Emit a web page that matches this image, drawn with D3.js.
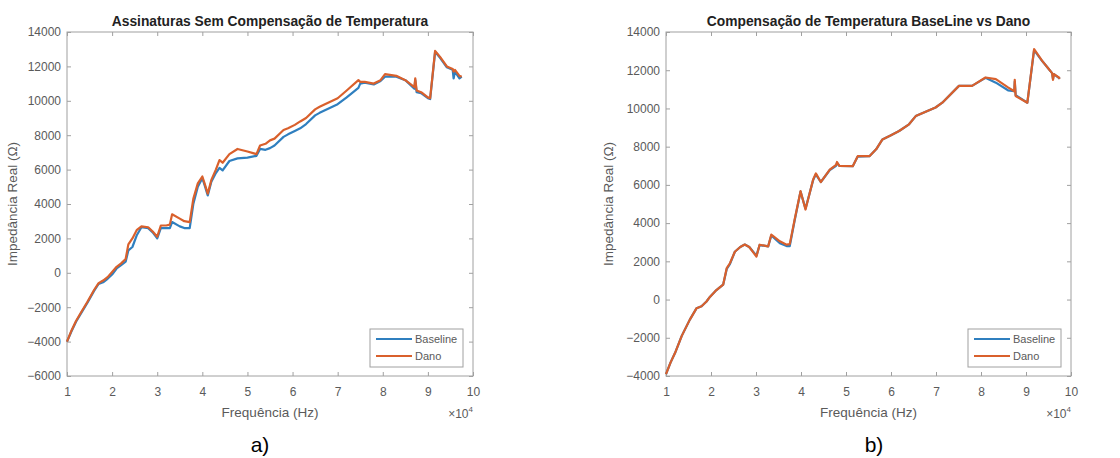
<!DOCTYPE html>
<html><head><meta charset="utf-8">
<script src="https://cdn.jsdelivr.net/npm/d3@7"></script>
<style>
body{margin:0;background:#fff;}
svg{display:block;font-family:"Liberation Sans",Arial,sans-serif;}
</style></head>
<body>
<svg id="chart" width="1120" height="458"></svg>
<script>
// ---- Data (frequency in units of 1e4 Hz) ----
const freqA = [1.0,1.1,1.2,1.3,1.45,1.6,1.7,1.8,1.9,2.0,2.1,2.2,2.3,2.36,2.45,2.55,2.65,2.8,2.9,3.0,3.08,3.2,3.28,3.33,3.5,3.6,3.72,3.8,3.9,4.0,4.05,4.12,4.2,4.3,4.38,4.45,4.6,4.78,5.0,5.2,5.28,5.4,5.5,5.6,5.8,5.9,6.05,6.17,6.3,6.5,6.6,6.8,7.0,7.2,7.46,7.5,7.6,7.8,7.95,8.05,8.3,8.5,8.7,8.72,8.75,8.85,9.0,9.05,9.16,9.27,9.42,9.55,9.57,9.6,9.7,9.75];
const baseA = [-4000,-3400,-2850,-2400,-1750,-1050,-650,-550,-350,-100,250,450,650,1300,1500,2200,2650,2600,2350,2000,2600,2600,2600,2950,2700,2600,2600,4000,5000,5500,5100,4500,5300,5800,6100,5950,6500,6650,6700,6800,7200,7150,7250,7400,7900,8050,8250,8400,8650,9150,9300,9550,9800,10200,10750,11000,11050,10950,11150,11400,11400,11200,10700,11200,10500,10450,10150,10100,12850,12500,11950,11800,11300,11700,11300,11400];
const danoA = [-4000,-3350,-2800,-2350,-1700,-1000,-600,-450,-250,50,350,550,800,1650,2000,2500,2700,2650,2400,2100,2750,2750,2800,3400,3150,3000,2950,4300,5200,5600,5200,4600,5400,6000,6550,6400,6900,7200,7050,6900,7400,7500,7700,7800,8300,8400,8600,8800,9000,9500,9650,9900,10150,10600,11200,11100,11100,11000,11200,11550,11450,11200,10800,11300,10600,10500,10200,10150,12900,12550,12000,11850,11700,11800,11450,11400];

const freqB = [1.0,1.1,1.2,1.35,1.53,1.68,1.79,1.9,1.98,2.1,2.27,2.35,2.42,2.53,2.65,2.75,2.85,3.01,3.08,3.27,3.34,3.53,3.68,3.75,3.86,3.99,4.1,4.27,4.33,4.44,4.64,4.78,4.8,4.85,5.15,5.26,5.52,5.67,5.81,6.0,6.18,6.4,6.55,6.99,7.14,7.51,7.8,8.1,8.33,8.6,8.74,8.75,8.77,9.03,9.18,9.36,9.51,9.58,9.6,9.62,9.73,9.75];
const baseB = [-3900,-3300,-2800,-1900,-1050,-450,-350,-100,150,450,780,1600,1850,2500,2750,2880,2750,2300,2850,2780,3350,2950,2800,2800,4150,5650,4750,6250,6550,6150,6780,7000,7150,7000,6980,7480,7500,7860,8380,8600,8820,9170,9600,10050,10300,11180,11180,11600,11350,10950,10900,11400,10700,10300,13050,12480,12050,11850,11550,11800,11600,11550];
const danoB = [-3900,-3300,-2800,-1900,-1050,-450,-350,-100,150,450,780,1650,1900,2500,2750,2880,2750,2250,2870,2780,3400,3050,2870,2900,4200,5670,4710,6280,6600,6150,6800,7050,7200,7000,6980,7500,7500,7860,8380,8600,8820,9170,9600,10050,10300,11180,11180,11620,11530,11100,10900,11500,10650,10300,13100,12490,12050,11850,11500,11800,11620,11550];

const xTicks = [1,2,3,4,5,6,7,8,9,10];
const yTicksA = [-6000,-4000,-2000,0,2000,4000,6000,8000,10000,12000,14000];
const yTicksB = [-4000,-2000,0,2000,4000,6000,8000,10000,12000,14000];
const seriesNames = ["Baseline","Dano"];
const colors = ["#2f7fbf","#d9602c"];

const svg = d3.select("#chart");

function panel(opt){
  const g = svg.append("g");
  const x = d3.scaleLinear().domain([1,10]).range([opt.left,opt.right]);
  const y = d3.scaleLinear().domain(opt.ydom).range([opt.bottom,opt.top]);
  const axisColor = "#a0a0a0", txt = "#5a5a5a";
  g.append("rect").attr("x",opt.left).attr("y",opt.top)
    .attr("width",opt.right-opt.left).attr("height",opt.bottom-opt.top)
    .attr("fill","#fff").attr("stroke",axisColor).attr("stroke-width",1);
  const ax = (gen, tr) => {
    const a = g.append("g").attr("transform",tr).call(gen);
    a.select(".domain").remove();
    a.selectAll("line").attr("stroke",axisColor);
    a.selectAll("text").attr("fill",txt).style("font-size","12px").style("font-family","'Liberation Sans',Arial,sans-serif");
    return a;
  };
  ax(d3.axisBottom(x).tickValues(xTicks).tickSize(-4).tickPadding(11).tickFormat(d3.format("d")), `translate(0,${opt.bottom})`);
  ax(d3.axisTop(x).tickValues(xTicks).tickSize(-4).tickFormat(""), `translate(0,${opt.top})`);
  ax(d3.axisLeft(y).tickValues(opt.yticks).tickSize(-4).tickPadding(6).tickFormat(d3.format("d")), `translate(${opt.left},0)`);
  ax(d3.axisRight(y).tickValues(opt.yticks).tickSize(-4).tickFormat(""), `translate(${opt.right},0)`);

  const line = d3.line().x((d,i)=>x(opt.freq[i])).y(d=>y(d));
  [opt.base, opt.dano].forEach((s,k)=>{
    g.append("path").datum(s).attr("d",line).attr("fill","none")
      .attr("stroke",colors[k]).attr("stroke-width",2.2).attr("stroke-linejoin","round");
  });

  const cx = (opt.left+opt.right)/2;
  g.append("text").attr("x",cx).attr("y",opt.top-6).attr("text-anchor","middle")
    .style("font-size","13.8px").style("font-weight","bold").attr("fill","#222").text(opt.title);
  g.append("text").attr("x",cx).attr("y",opt.bottom+41).attr("text-anchor","middle")
    .style("font-size","13.5px").attr("fill",txt).text("Frequência (Hz)");
  g.append("text").attr("transform",`translate(${opt.ylabX},${(opt.top+opt.bottom)/2}) rotate(-90)`)
    .attr("text-anchor","middle").style("font-size","13.5px").attr("fill",txt).text("Impedância Real (Ω)");
  const ex = g.append("text").attr("x",opt.right).attr("y",opt.bottom+42).attr("text-anchor","end")
    .style("font-size","12px").attr("fill",txt);
  ex.append("tspan").text("×10");
  ex.append("tspan").attr("dy",-6).style("font-size","8px").text("4");
  g.append("text").attr("x",opt.labX).attr("y",452).attr("text-anchor","middle")
    .style("font-size","21px").attr("fill","#000").text(opt.label);

  // legend
  const lx = opt.right-103, ly = opt.bottom-47;
  g.append("rect").attr("x",lx).attr("y",ly).attr("width",93).attr("height",38)
    .attr("fill","#fff").attr("stroke",axisColor);
  seriesNames.forEach((n,k)=>{
    const yy = ly+10+k*17;
    g.append("line").attr("x1",lx+6).attr("x2",lx+42).attr("y1",yy).attr("y2",yy)
      .attr("stroke",colors[k]).attr("stroke-width",2.2);
    g.append("text").attr("x",lx+45).attr("y",yy+4).style("font-size","11px").attr("fill",txt).text(n);
  });
}

panel({left:67,right:473,top:32,bottom:376,ydom:[-6000,14000],yticks:yTicksA,
  freq:freqA,base:baseA,dano:danoA,title:"Assinaturas Sem Compensação de Temperatura",
  ylabX:17,labX:260,label:"a)"});
panel({left:666,right:1071,top:32,bottom:376,ydom:[-4000,14000],yticks:yTicksB,
  freq:freqB,base:baseB,dano:danoB,title:"Compensação de Temperatura BaseLine vs Dano",
  ylabX:613,labX:874,label:"b)"});
</script>
</body></html>
